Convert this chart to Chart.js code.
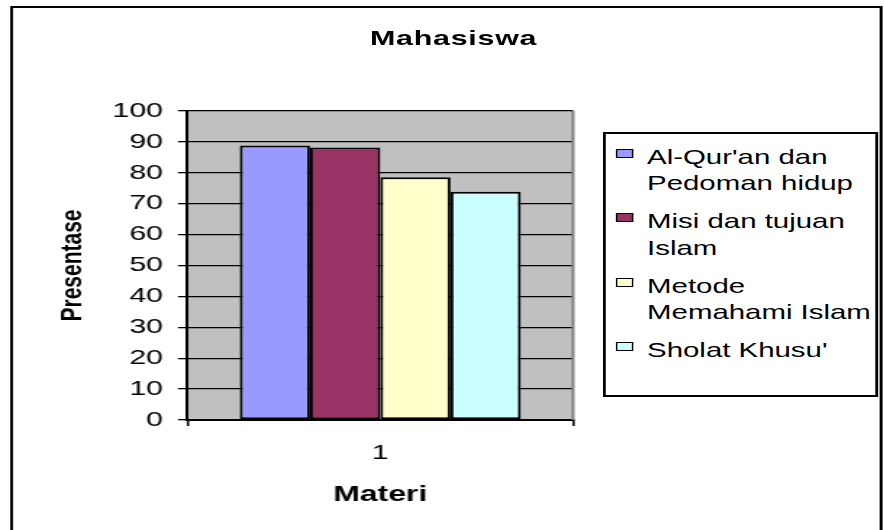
<!DOCTYPE html>
<html>
<head>
<meta charset="utf-8">
<title>Mahasiswa</title>
<script src="https://cdn.jsdelivr.net/npm/chart.js@4.4.1/dist/chart.umd.min.js"></script>
<style>
  html, body { margin: 0; padding: 0; background: #fff; overflow: hidden; }
  /* the source picture is a stretched Excel chart: draw at 610 wide, stretch to 884 */
  #stage { position: absolute; left: 0; top: 0; width: 610px; height: 530px; transform: scaleX(1.4492); transform-origin: 0 0; }
  #chart { position: absolute; left: 0; top: 0; }
  #title { position: absolute; left: 0; top: 25px; width: 626px; text-align: center; font: bold 21px "Liberation Sans", Arial, sans-serif; line-height: 25px; letter-spacing: 0.5px; color: #000; }
  #legend { position: absolute; left: 416px; top: 132px; width: 190px; height: 265px; box-sizing: border-box; border: 2px solid #000; background: #fff; padding-top: 9.5px; font: 20.3px "Liberation Sans", Arial, sans-serif; line-height: 26.5px; color: #000; }
  .leg-item { position: relative; padding-left: 28.5px; margin-bottom: 11.5px; white-space: pre; }
  .leg-swatch { position: absolute; left: 7px; top: 5px; width: 12px; height: 9px; box-sizing: border-box; border: 1.5px solid #000; }
</style>
</head>
<body>
<div id="stage">
  <canvas id="chart" width="610" height="530"></canvas>
  <div id="title">Mahasiswa</div>
  <div id="legend"></div>
</div>
<script>
// ─── Data ───────────────────────────────────────────────────
const categories   = ["1"];
const seriesNames  = ["Al-Qur'an dan\nPedoman hidup", "Misi dan tujuan\nIslam", "Metode\nMemahami Islam", "Sholat Khusu'"];
const alQuranData  = [88.8];
const misiData     = [88.2];
const metodeData   = [78.6];
const sholatData   = [73.9];
const seriesColors = ["#9999ff", "#993366", "#ffffcc", "#ccffff"];
const yTicks       = [0, 10, 20, 30, 40, 50, 60, 70, 80, 90, 100];

const FONT = "'Liberation Sans', Arial, sans-serif";
Chart.defaults.font.family = FONT;
Chart.defaults.color = "#000";

// ─── Plot background + outer frame ──────────────────────────
const chartFrame = {
  id: "chartFrame",
  beforeDraw(chart) {
    const { ctx, chartArea: a } = chart;
    ctx.save();
    ctx.fillStyle = "#fff";
    ctx.fillRect(0, 0, chart.width, chart.height);
    ctx.fillStyle = "#c0c0c0";
    ctx.fillRect(a.left, a.top, a.right - a.left, a.bottom - a.top);
    ctx.strokeStyle = "#000";
    ctx.lineWidth = 2;
    ctx.strokeRect(8, 7, 600, 540);
    ctx.restore();
  },
  afterDatasetsDraw(chart) {
    const { ctx, chartArea: a } = chart;
    ctx.save();
    ctx.strokeStyle = "#808080";
    ctx.lineWidth = 2;
    ctx.beginPath();
    ctx.moveTo(a.right, a.top);
    ctx.lineTo(a.right, a.bottom);
    ctx.stroke();
    ctx.restore();
  }
};

function buildLegend(chart) {
  const box = document.getElementById("legend");
  box.innerHTML = chart.data.datasets.map((ds, i) =>
    `<div class="leg-item"><span class="leg-swatch" style="background:${ds.backgroundColor}"></span>${seriesNames[i]}</div>`
  ).join("");
}

// ─── Chart ──────────────────────────────────────────────────
const seriesData = [alQuranData, misiData, metodeData, sholatData];

const chart = new Chart(document.getElementById("chart").getContext("2d"), {
  type: "bar",
  data: {
    labels: categories,
    datasets: seriesData.map((d, i) => ({
      label: seriesNames[i].replace("\n", " "),
      data: d,
      backgroundColor: seriesColors[i],
      borderColor: "#000",
      borderWidth: 2,
      borderSkipped: false,
      categoryPercentage: 0.729,
      barPercentage: 1
    }))
  },
  options: {
    responsive: false,
    animation: false,
    devicePixelRatio: 1,
    layout: { padding: { top: 111, right: 214.6, bottom: 0, left: 0 } },
    plugins: {
      legend: { display: false },
      title: { display: false },
      tooltip: { enabled: false }
    },
    scales: {
      x: {
        afterFit: s => { s.height = 110; },
        grid: { drawOnChartArea: false, drawTicks: true, tickLength: 6, color: "#000", lineWidth: 1.5 },
        border: { display: true, color: "#000", width: 2 },
        ticks: { color: "#000", font: { size: 21 }, padding: 14.5 },
        title: { display: true, text: "Materi", color: "#000", font: { size: 22, weight: "bold" }, padding: { top: 0, bottom: 22 } }
      },
      y: {
        min: yTicks[0],
        max: yTicks[yTicks.length - 1],
        afterFit: s => { s.width = 129.4; },
        afterBuildTicks: s => { s.ticks = yTicks.map(v => ({ value: v })); },
        grid: { color: "#000", lineWidth: 1.3, drawTicks: true, tickLength: 6.6 },
        border: { display: true, color: "#000", width: 2 },
        ticks: { color: "#000", font: { size: 21 }, padding: 10.3 },
        title: { display: true, text: "Presentase", color: "#000", font: { size: 21, weight: "bold" }, padding: { top: 37.8, bottom: 0 } }
      }
    }
  },
  plugins: [chartFrame]
});

buildLegend(chart);
</script>
</body>
</html>
